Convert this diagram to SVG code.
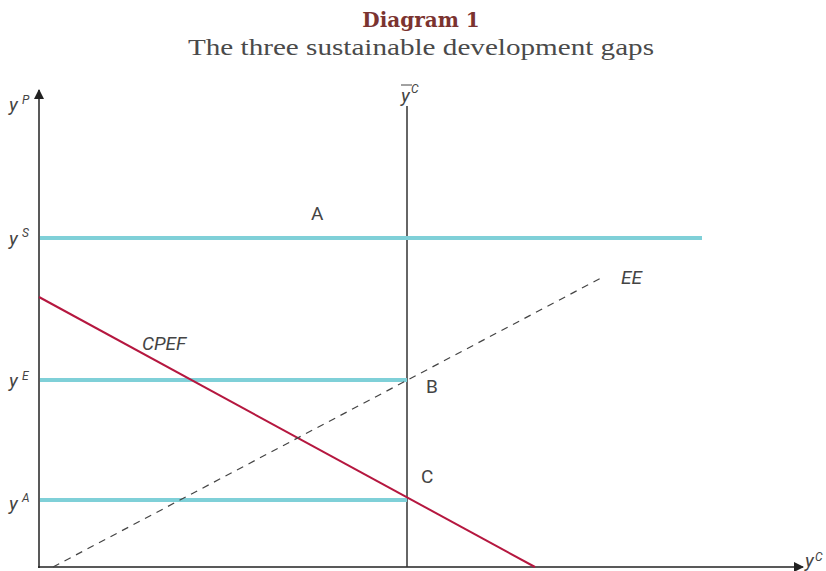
<svg xmlns="http://www.w3.org/2000/svg" width="826" height="571" viewBox="0 0 826 571">
<style>
.t{font-family:Roboto,"Liberation Sans",sans-serif;fill:#444;font-size:19px}
.i{font-style:italic}
.s{font-size:12px}
.cy{stroke:#7fd0d8;stroke-width:4;fill:none}
.ax{stroke:#222;stroke-width:1.5;fill:none}
</style>
<defs>
<marker id="ah" viewBox="0 0 10 10" refX="9" refY="5" markerWidth="10" markerHeight="10" markerUnits="userSpaceOnUse" orient="auto">
<path d="M0,0 L10,5 L0,10 z" fill="#222"/>
</marker>
</defs>
<rect width="826" height="571" fill="#fff"/>
<g id="title">
<text x="421" y="27" text-anchor="middle" font-family="'DejaVu Serif','Liberation Serif',serif" font-weight="bold" font-size="20" fill="#7b3330">Diagram 1</text>
<text x="421" y="55" text-anchor="middle" font-family="'Liberation Serif',serif" font-size="24" fill="#4a4a4a" textLength="466" lengthAdjust="spacingAndGlyphs">The three sustainable development gaps</text>
</g>
<g id="connectors">
<line class="ax" x1="39" y1="568" x2="39" y2="90" marker-end="url(#ah)"/>
<line class="ax" x1="38" y1="567" x2="803" y2="567" marker-end="url(#ah)"/>
<line x1="407" y1="106" x2="407" y2="567" stroke="#333" stroke-width="1.5"/>
<line class="cy" x1="40" y1="238" x2="702" y2="238"/>
<line class="cy" x1="40" y1="380" x2="407" y2="380"/>
<line class="cy" x1="40" y1="500" x2="407" y2="500"/>
<line x1="39" y1="297" x2="535" y2="567" stroke="#b5173f" stroke-width="2"/>
<line x1="53" y1="567" x2="601" y2="278" stroke="#444" stroke-width="1.2" stroke-dasharray="7,6"/>
</g>
<g id="labels">
<text class="t i" x="9" y="111">y</text><text class="t i s" x="22" y="104">P</text>
<text class="t i" x="9" y="245">y</text><text class="t i s" x="22" y="237">S</text>
<text class="t i" x="9" y="387">y</text><text class="t i s" x="22" y="380">E</text>
<text class="t i" x="9" y="510">y</text><text class="t i s" x="22" y="502">A</text>
<text class="t i" x="401" y="102">y</text><line x1="401" y1="85" x2="412" y2="85" stroke="#444" stroke-width="1"/><text class="t i s" x="411" y="93">C</text>
<text class="t i" x="805" y="567">y</text><text class="t i s" x="815" y="561">C</text>
</g>
<g id="A"><text class="t" x="311" y="220">A</text></g>
<g id="B"><text class="t" x="426" y="393">B</text></g>
<g id="C"><text class="t" x="421" y="483">C</text></g>
<g id="EE"><text class="t i" x="621" y="284">EE</text></g>
<g id="CPEF"><text class="t i" x="142" y="350">CPEF</text></g>
</svg>
